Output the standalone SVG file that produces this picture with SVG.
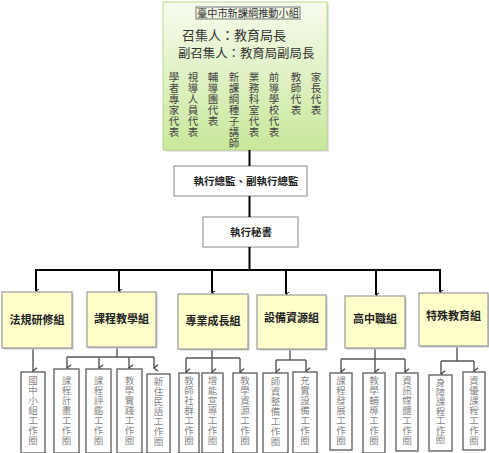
<svg xmlns="http://www.w3.org/2000/svg" width="489" height="453" viewBox="0 0 489 453">
<defs>
<linearGradient id="gTop" x1="0" y1="0" x2="0" y2="1">
<stop offset="0" stop-color="#f7fbee"/>
<stop offset="1" stop-color="#c9e79a"/>
</linearGradient>
<marker id="aBlk" viewBox="0 0 10 10" refX="5" refY="9" markerWidth="5" markerHeight="5" orient="auto-start-reverse" markerUnits="userSpaceOnUse">
<path d="M1,3 L5,9 L9,3" fill="none" stroke="#000" stroke-width="2"/>
</marker>
<marker id="aGry" viewBox="0 0 10 10" refX="5" refY="9" markerWidth="8" markerHeight="8" orient="auto-start-reverse" markerUnits="userSpaceOnUse">
<path d="M1,4 L5,9 L9,4" fill="none" stroke="#444" stroke-width="1.6"/>
</marker>
</defs>
<style>
text{font-family:"Noto Sans CJK TC","Noto Sans CJK SC",sans-serif;}
.top{fill:#333;}
.col{font-size:10.5px;fill:#444;writing-mode:vertical-rl;letter-spacing:0.5px;}
.box{fill:#fff;stroke:#888;stroke-width:1;}
.boxt{font-size:10.5px;fill:#222;text-anchor:middle;font-weight:bold;}
.grp{fill:#ffffcc;stroke:#9a9a9a;stroke-width:1.2;}
.shd{fill:#c8c8c8;}
.grpt{font-size:11px;fill:#222;text-anchor:middle;font-weight:bold;}
.sub{fill:#fff;stroke:#666;stroke-width:1.4;}
.subt{font-size:9.5px;fill:#888;writing-mode:vertical-rl;letter-spacing:0.5px;}
.main{stroke:#000;stroke-width:2;fill:none;}
.br{stroke:#555;stroke-width:1.4;fill:none;}
</style>

<g id="top-committee">
<rect x="164.5" y="3.5" width="164" height="148" fill="#d0d0d0"/>
<rect x="163" y="2" width="164" height="148" fill="url(#gTop)" stroke="#b9da8e" stroke-width="1"/>
<rect x="196" y="7" width="104" height="12" fill="none" stroke="#555" stroke-width="0.8"/>
<text x="248" y="17" class="top" font-size="10.2" text-anchor="middle">臺中市新課綱推動小組</text>
<text x="182" y="40" class="top" font-size="13">召集人：教育局長</text>
<text x="178" y="58" class="top" font-size="12.4">副召集人：教育局副局長</text>
<text x="174" y="72" class="col">學者專家代表</text>
<text x="193" y="72" class="col">視導人員代表</text>
<text x="213" y="72" class="col">輔導團代表</text>
<text x="234" y="72" class="col">新課綱種子講師</text>
<text x="254" y="72" class="col">業務科室代表</text>
<text x="274" y="72" class="col">前導學校代表</text>
<text x="296" y="72" class="col">教師代表</text>
<text x="316" y="72" class="col">家長代表</text>
</g>

<g id="director">
<rect x="174" y="166" width="133" height="30" class="box"/>
<text x="246" y="185" class="boxt">執行總監、副執行總監</text>
</g>
<g id="secretary">
<rect x="203" y="217" width="95" height="30" class="box"/>
<text x="251" y="236" class="boxt">執行秘書</text>
</g>

<g id="connectors">
<line x1="249.5" y1="150" x2="249.5" y2="166" class="main"/>
<line x1="249.5" y1="196" x2="249.5" y2="217" class="main"/>
<line x1="249.5" y1="247" x2="249.5" y2="270" class="main"/>
<line x1="35" y1="270" x2="441" y2="270" class="main"/>
<line x1="36" y1="270" x2="36" y2="291" class="main" marker-end="url(#aBlk)"/>
<line x1="119" y1="270" x2="119" y2="291" class="main" marker-end="url(#aBlk)"/>
<line x1="212" y1="270" x2="212" y2="293" class="main" marker-end="url(#aBlk)"/>
<line x1="286" y1="270" x2="286" y2="294" class="main" marker-end="url(#aBlk)"/>
<line x1="376" y1="270" x2="376" y2="295" class="main" marker-end="url(#aBlk)"/>
<line x1="440" y1="270" x2="440" y2="292" class="main" marker-end="url(#aBlk)"/>

<line x1="33" y1="348" x2="33" y2="371" class="br" marker-end="url(#aGry)"/>

<line x1="117" y1="347" x2="117" y2="357" class="br"/>
<line x1="67" y1="357" x2="154" y2="357" class="br"/>
<line x1="67" y1="357" x2="67" y2="368" class="br" marker-end="url(#aGry)"/>
<line x1="99" y1="357" x2="99" y2="368" class="br" marker-end="url(#aGry)"/>
<line x1="129" y1="357" x2="129" y2="368" class="br" marker-end="url(#aGry)"/>
<line x1="154" y1="357" x2="154" y2="368" class="br" marker-end="url(#aGry)"/>

<line x1="212" y1="349" x2="212" y2="358" class="br"/>
<line x1="186" y1="358" x2="240" y2="358" class="br"/>
<line x1="186" y1="358" x2="186" y2="372" class="br" marker-end="url(#aGry)"/>
<line x1="212" y1="358" x2="212" y2="372" class="br" marker-end="url(#aGry)"/>
<line x1="240" y1="358" x2="240" y2="372" class="br" marker-end="url(#aGry)"/>

<line x1="290" y1="349" x2="290" y2="360" class="br"/>
<line x1="276" y1="360" x2="306" y2="360" class="br"/>
<line x1="276" y1="360" x2="276" y2="372" class="br" marker-end="url(#aGry)"/>
<line x1="306" y1="360" x2="306" y2="371" class="br" marker-end="url(#aGry)"/>

<line x1="375" y1="348" x2="375" y2="359" class="br"/>
<line x1="341" y1="359" x2="405" y2="359" class="br"/>
<line x1="341" y1="359" x2="341" y2="372" class="br" marker-end="url(#aGry)"/>
<line x1="375" y1="359" x2="375" y2="372" class="br" marker-end="url(#aGry)"/>
<line x1="405" y1="359" x2="405" y2="372" class="br" marker-end="url(#aGry)"/>

<line x1="457" y1="346" x2="457" y2="361" class="br"/>
<line x1="441" y1="361" x2="474" y2="361" class="br"/>
<line x1="441" y1="361" x2="441" y2="374" class="br" marker-end="url(#aGry)"/>
<line x1="474" y1="361" x2="474" y2="371" class="br" marker-end="url(#aGry)"/>
</g>

<g id="g-law"><rect x="3.5" y="293.5" width="70" height="56" class="shd"/><rect x="2" y="292" width="70" height="56" class="grp"/><text x="37" y="324" class="grpt">法規研修組</text></g>
<g id="g-curriculum"><rect x="88.5" y="293.5" width="69" height="55" class="shd"/><rect x="87" y="292" width="69" height="55" class="grp"/><text x="121.5" y="323" class="grpt">課程教學組</text></g>
<g id="g-prof"><rect x="179.5" y="295.5" width="70" height="55" class="shd"/><rect x="178" y="294" width="70" height="55" class="grp"/><text x="213" y="325" class="grpt">專業成長組</text></g>
<g id="g-equip"><rect x="258.5" y="296.5" width="69" height="54" class="shd"/><rect x="257" y="295" width="69" height="54" class="grp"/><text x="291.5" y="322" class="grpt">設備資源組</text></g>
<g id="g-high"><rect x="346.5" y="297.5" width="60" height="52" class="shd"/><rect x="345" y="296" width="60" height="52" class="grp"/><text x="375" y="323" class="grpt">高中職組</text></g>
<g id="g-special"><rect x="420.5" y="294.5" width="69" height="53" class="shd"/><rect x="419" y="293" width="69" height="53" class="grp"/><text x="453.5" y="320" class="grpt">特殊教育組</text></g>

<g id="s1"><rect x="21" y="372" width="24" height="81" class="sub"/><text x="33" y="376" class="subt">國中小組工作圈</text></g>
<g id="s2"><rect x="54" y="369" width="25" height="84" class="sub"/><text x="66.5" y="376" class="subt">課程計畫工作圈</text></g>
<g id="s3"><rect x="86" y="369" width="25" height="84" class="sub"/><text x="98.5" y="376" class="subt">課程評鑑工作圈</text></g>
<g id="s4"><rect x="117" y="369" width="25" height="84" class="sub"/><text x="129.5" y="376" class="subt">教學實踐工作圈</text></g>
<g id="s5"><rect x="147" y="374" width="23" height="79" class="sub"/><text x="158.5" y="377" class="subt">新住民語工作圈</text></g>
<g id="s6"><rect x="179" y="373" width="20" height="80" class="sub"/><text x="189" y="376" class="subt">教師社群工作圈</text></g>
<g id="s7"><rect x="202" y="373" width="21" height="80" class="sub"/><text x="212.5" y="376" class="subt">增能宣導工作圈</text></g>
<g id="s8"><rect x="233" y="373" width="24" height="80" class="sub"/><text x="245" y="376" class="subt">教學資源工作圈</text></g>
<g id="s9"><rect x="263" y="373" width="25" height="80" class="sub"/><text x="275.5" y="377" class="subt">師資整備工作圈</text></g>
<g id="s10"><rect x="293" y="372" width="24" height="81" class="sub"/><text x="305" y="376" class="subt">充實設備工作圈</text></g>
<g id="s11"><rect x="330" y="373" width="22" height="77" class="sub"/><text x="341" y="376" class="subt">課程發展工作圈</text></g>
<g id="s12"><rect x="363" y="373" width="22" height="80" class="sub"/><text x="374" y="376" class="subt">教學輔導工作圈</text></g>
<g id="s13"><rect x="396" y="373" width="22" height="78" class="sub"/><text x="407" y="376" class="subt">資訊媒體工作圈</text></g>
<g id="s14"><rect x="429" y="375" width="23" height="76" class="sub"/><text x="440.5" y="378" class="subt" style="letter-spacing:0">身障課程工作圈</text></g>
<g id="s15"><rect x="463" y="372" width="22" height="78" class="sub"/><text x="474" y="376" class="subt">資優課程工作圈</text></g>
</svg>
